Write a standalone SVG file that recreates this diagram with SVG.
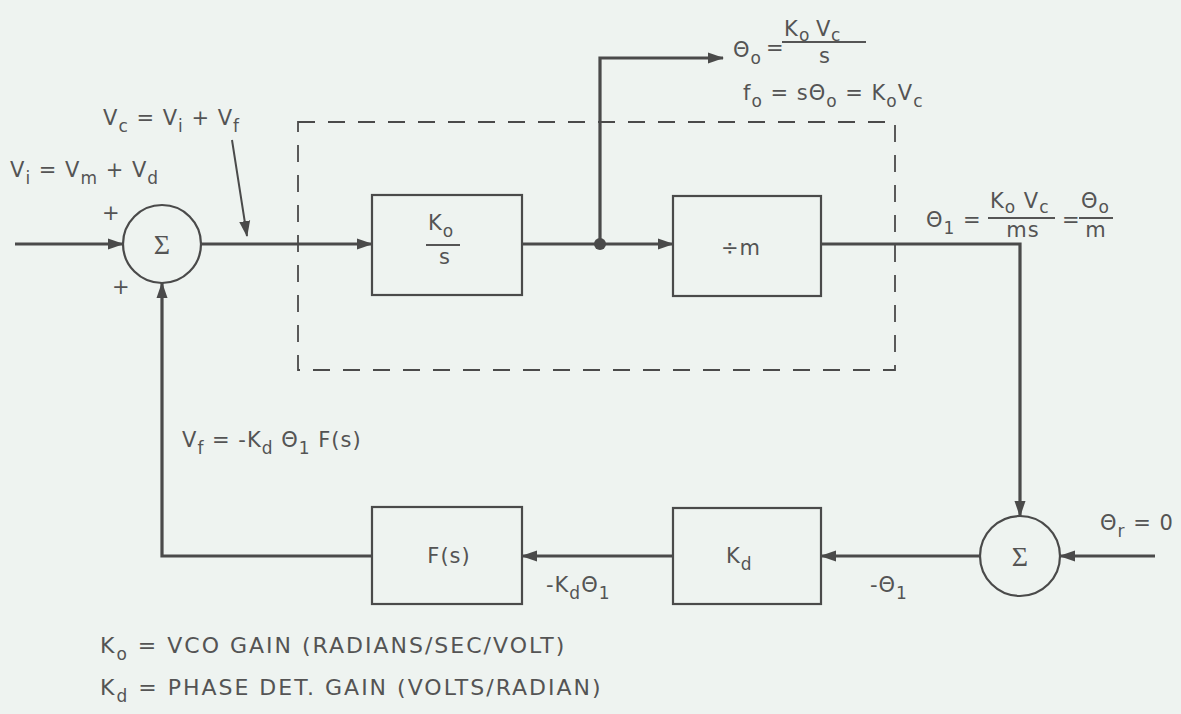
<svg xmlns="http://www.w3.org/2000/svg" width="1181" height="714" viewBox="0 0 1181 714">
<defs>
<style>
.bg{fill:#eef3f0}
.box{fill:none;stroke:#4a4a4a;stroke-width:2.2}
.sum{fill:#eef3f0;stroke:#4a4a4a;stroke-width:2.2}
.wire{fill:none;stroke:#4a4a4a;stroke-width:3.2}
.thin{fill:none;stroke:#4a4a4a;stroke-width:2}
.dash{fill:none;stroke:#4a4a4a;stroke-width:1.8;stroke-dasharray:17 13}
.frac{stroke:#555;stroke-width:2}
text{font-family:"DejaVu Sans","Liberation Sans",sans-serif;font-size:21px;letter-spacing:1px;fill:#545454}
.sub{font-size:17px}
.sig{font-family:"Liberation Serif","DejaVu Serif",serif;font-size:28px;text-anchor:middle;letter-spacing:0}
.mid{text-anchor:middle}
.legend{font-size:22px;letter-spacing:2px}
</style>
<marker id="arr" markerWidth="16" markerHeight="12" refX="15" refY="6" orient="auto" markerUnits="userSpaceOnUse">
<path d="M0,0.5 L16,6 L0,11.5 z" fill="#4a4a4a"/>
</marker>
</defs>
<rect class="bg" x="0" y="0" width="1181" height="714"/>

<g id="connectors">
<path class="wire" d="M15,244 H123" marker-end="url(#arr)"/>
<path class="wire" d="M201,244 H372" marker-end="url(#arr)"/>
<path class="wire" d="M522,244 H673" marker-end="url(#arr)"/>
<path class="wire" d="M600,244 V58 H723" marker-end="url(#arr)"/>
<path class="wire" d="M821,244 H1020 V516" marker-end="url(#arr)"/>
<path class="wire" d="M1155,556 H1060" marker-end="url(#arr)"/>
<path class="wire" d="M980,556 H821" marker-end="url(#arr)"/>
<path class="wire" d="M673,556 H522" marker-end="url(#arr)"/>
<path class="wire" d="M372,556 H162 V283" marker-end="url(#arr)"/>
<path class="thin" d="M232,140 L247,236" marker-end="url(#arr)"/>
<circle cx="600" cy="244" r="6" fill="#4a4a4a"/>
</g>

<g id="vco-boundary">
<rect class="dash" x="298" y="122" width="597" height="248"/>
</g>

<g id="sum1">
<circle class="sum" cx="162" cy="244" r="39"/>
<text class="sig" x="162" y="254">Σ</text>
<text x="102" y="220" font-size="19">+</text>
<text x="112" y="294" font-size="19">+</text>
</g>

<g id="vco">
<rect class="box" x="372" y="195" width="150" height="100"/>
<text x="428" y="230">K<tspan class="sub" dy="7">o</tspan></text>
<line class="frac" x1="426" y1="245" x2="460" y2="245"/>
<text class="mid" x="445" y="264">s</text>
</g>

<g id="divider">
<rect class="box" x="673" y="196" width="148" height="100"/>
<text class="mid" x="741" y="255">÷m</text>
</g>

<g id="sum2">
<circle class="sum" cx="1020" cy="556" r="40"/>
<text class="sig" x="1020" y="566">Σ</text>
</g>

<g id="phase-det">
<rect class="box" x="673" y="508" width="148" height="96"/>
<text x="726" y="563">K<tspan class="sub" dy="7">d</tspan></text>
</g>

<g id="filter">
<rect class="box" x="372" y="507" width="150" height="97"/>
<text class="mid" x="449" y="563">F(s)</text>
</g>

<g id="labels">
<text x="103" y="125">V<tspan class="sub" dy="7">c</tspan><tspan dy="-7"> = V</tspan><tspan class="sub" dy="7">i</tspan><tspan dy="-7"> + V</tspan><tspan class="sub" dy="7">f</tspan></text>
<text x="10" y="177">V<tspan class="sub" dy="7">i</tspan><tspan dy="-7"> = V</tspan><tspan class="sub" dy="7">m</tspan><tspan dy="-7"> + V</tspan><tspan class="sub" dy="7">d</tspan></text>

<text x="733" y="57" letter-spacing="0">Θ<tspan class="sub" dy="7">o</tspan></text>
<text x="766" y="55" font-size="18" letter-spacing="0">=</text>
<text x="784" y="36" letter-spacing="0">K<tspan class="sub" x="799" dy="5">o</tspan><tspan x="816" dy="-5">V</tspan><tspan class="sub" x="831" dy="5">c</tspan></text>
<line class="frac" x1="782" y1="42" x2="866" y2="42"/>
<text class="mid" x="825" y="63">s</text>
<text x="743" y="100">f<tspan class="sub" dy="7">o</tspan><tspan dy="-7"> = sΘ</tspan><tspan class="sub" dy="7">o</tspan><tspan dy="-7"> = K</tspan><tspan class="sub" dy="7">o</tspan><tspan dy="-7">V</tspan><tspan class="sub" dy="7">c</tspan></text>

<text x="926" y="227">Θ<tspan class="sub" dy="7">1</tspan><tspan dy="-7"> =</tspan></text>
<text x="990" y="208">K<tspan class="sub" dy="5">o</tspan><tspan dy="-5"> V</tspan><tspan class="sub" dy="5">c</tspan></text>
<line class="frac" x1="988" y1="218" x2="1055" y2="218"/>
<text class="mid" x="1023" y="237">ms</text>
<text x="1062" y="227">=</text>
<text x="1081" y="208">Θ<tspan class="sub" dy="5">o</tspan></text>
<line class="frac" x1="1079" y1="218" x2="1113" y2="218"/>
<text class="mid" x="1096" y="237">m</text>

<text x="182" y="447">V<tspan class="sub" dy="7">f</tspan><tspan dy="-7"> = -K</tspan><tspan class="sub" dy="7">d</tspan><tspan dy="-7"> Θ</tspan><tspan class="sub" dy="7">1</tspan><tspan dy="-7"> F(s)</tspan></text>

<text x="546" y="592">-K<tspan class="sub" dy="7">d</tspan><tspan dy="-7">Θ</tspan><tspan class="sub" dy="7">1</tspan></text>
<text x="870" y="592">-Θ<tspan class="sub" dy="7">1</tspan></text>
<text x="1100" y="530" letter-spacing="0">Θ<tspan class="sub" dy="7">r</tspan><tspan dy="-7"> = 0</tspan></text>

<text class="legend" x="100" y="653">K<tspan class="sub" dy="7">o</tspan><tspan dy="-7"> = VCO GAIN (RADIANS/SEC/VOLT)</tspan></text>
<text class="legend" x="100" y="695">K<tspan class="sub" dy="7">d</tspan><tspan dy="-7"> = PHASE DET. GAIN (VOLTS/RADIAN)</tspan></text>
</g>
</svg>
